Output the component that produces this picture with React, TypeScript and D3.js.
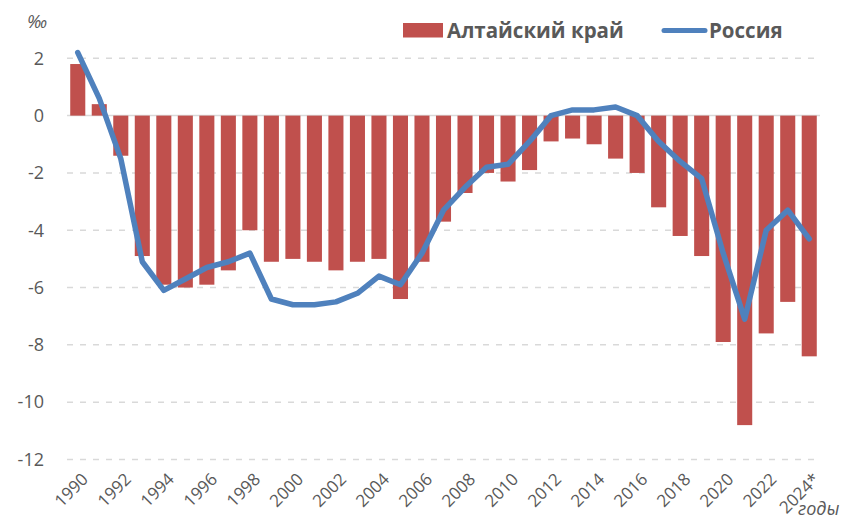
import React from 'react';
import * as d3 from 'd3';

const years = [
  '1990', '1991', '1992', '1993', '1994', '1995', '1996', '1997', '1998', '1999',
  '2000', '2001', '2002', '2003', '2004', '2005', '2006', '2007', '2008', '2009',
  '2010', '2011', '2012', '2013', '2014', '2015', '2016', '2017', '2018', '2019',
  '2020', '2021', '2022', '2023', '2024*',
];

// естественный прирост, промилле
const altai = [
  1.8, 0.4, -1.4, -4.9, -5.9, -6.0, -5.9, -5.4, -4.0, -5.1,
  -5.0, -5.1, -5.4, -5.1, -5.0, -6.4, -5.1, -3.7, -2.7, -2.0,
  -2.3, -1.9, -0.9, -0.8, -1.0, -1.5, -2.0, -3.2, -4.2, -4.9,
  -7.9, -10.8, -7.6, -6.5, -8.4,
];

const russia = [
  2.2, 0.6, -1.5, -5.1, -6.1, -5.7, -5.3, -5.1, -4.8, -6.4,
  -6.6, -6.6, -6.5, -6.2, -5.6, -5.9, -4.8, -3.3, -2.5, -1.8,
  -1.7, -0.9, 0.0, 0.2, 0.2, 0.3, 0.0, -0.9, -1.6, -2.2,
  -4.8, -7.1, -4.0, -3.3, -4.3,
];

const yTicks = [2, 0, -2, -4, -6, -8, -10, -12];

const W = 843;
const H = 520;
const FONT = '"Open Sans", sans-serif';
const GREY = '#595959';
const RED = '#C0504D';
const BLUE = '#4F81BD';

const App: React.FC = () => {
  const x = d3.scaleBand<string>().domain(years).range([67, 820]).paddingInner(0.3).paddingOuter(0.15);
  const y = d3.scaleLinear().domain([-12, 2]).range([459.5, 58.3]);
  const cx = (d: string) => (x(d) ?? 0) + x.bandwidth() / 2;

  const line = d3
    .line<number>()
    .x((_, i) => cx(years[i]))
    .y((d) => y(d));

  return (
    <svg
      width={W}
      height={H}
      style={{ position: 'absolute', left: 0, top: 0, background: '#fff' }}
      fontFamily={FONT}
    >
      {/* gridlines */}
      {yTicks.map((t) => (
        <line
          key={t}
          x1={67}
          x2={820}
          y1={y(t)}
          y2={y(t)}
          stroke="#d9d9d9"
          strokeWidth={1.5}
          strokeDasharray={t === 0 ? undefined : '6,7'}
        />
      ))}

      {/* y labels */}
      {yTicks.map((t) => (
        <text key={t} x={44} y={y(t)} dy="0.35em" textAnchor="end" fontSize={18} fill={GREY}>
          {t}
        </text>
      ))}
      <text x={27} y={28} fontSize={18} fontStyle="italic" fill={GREY}>‰</text>

      {/* bars */}
      {altai.map((v, i) => (
        <rect
          key={years[i]}
          x={x(years[i])}
          width={x.bandwidth()}
          y={y(Math.max(0, v))}
          height={Math.abs(y(v) - y(0))}
          fill={RED}
        />
      ))}

      {/* line */}
      <path
        d={line(russia) ?? ''}
        fill="none"
        stroke={BLUE}
        strokeWidth={5.5}
        strokeLinejoin="round"
        strokeLinecap="round"
      />

      {/* x labels */}
      {years.map((d, i) =>
        i % 2 === 0 ? (
          <text
            key={d}
            transform={`translate(${cx(d) + 3},${472}) rotate(-45)`}
            textAnchor="end"
            dy="0.7em"
            fontSize={17}
            fill={GREY}
          >
            {d}
          </text>
        ) : null
      )}
      <text x={798} y={515} fontSize={18} fontStyle="italic" fill={GREY}>годы</text>

      {/* legend */}
      <rect x={403} y={23} width={40} height={14.5} fill={RED} />
      <text x={447} y={37.5} fontSize={20.5} fontWeight="bold" fill={GREY}>Алтайский край</text>
      <line x1={664} x2={705} y1={30.5} y2={30.5} stroke={BLUE} strokeWidth={5} strokeLinecap="round" />
      <text x={709} y={37.5} fontSize={20.5} fontWeight="bold" fill={GREY}>Россия</text>
    </svg>
  );
};

export default App;
